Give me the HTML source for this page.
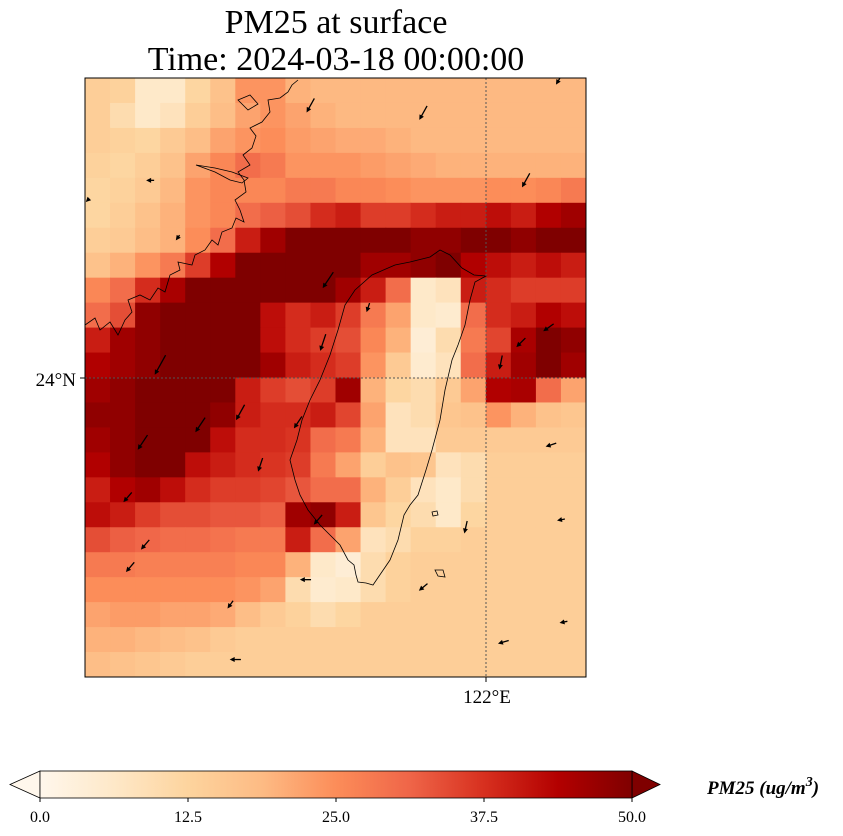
<!DOCTYPE html>
<html><head><meta charset="utf-8"><style>
html,body{margin:0;padding:0;background:#fff;}
svg{display:block;font-family:"Liberation Serif",serif;}
</style></head><body>
<svg id="chart" width="843" height="836" viewBox="0 0 843 836" xmlns="http://www.w3.org/2000/svg">
<text x="336" y="33" font-size="34" text-anchor="middle">PM25 at surface</text>
<text x="336" y="70" font-size="34" text-anchor="middle">Time: 2024-03-18 00:00:00</text>
<defs><clipPath id="mapclip"><rect x="85" y="78" width="501" height="599"/></clipPath>
<linearGradient id="cbgrad" x1="0" x2="1" y1="0" y2="0"></linearGradient></defs>
<g id="cells" clip-path="url(#mapclip)"></g>
<g id="coast" clip-path="url(#mapclip)" fill="none" stroke="#000" stroke-width="0.8">
<path d="M430,257 L440,250 L450,255 L462,268 L474,275 L486,276 L475,282 L470,300 L465,325 L458,345 L452,360 L445,390 L440,420 L432,450 L426,470 L418,495 L410,505 L404,515 L398,540 L390,560 L373,585 L366,583 L358,582 L356,575 L354,565 L348,560 L340,545 L330,535 L320,525 L308,510 L300,495 L295,480 L290,460 L297,440 L302,420 L310,400 L320,380 L330,355 L338,330 L345,305 L355,290 L372,275 L395,265 L410,262 Z"/>
<path d="M85,325 L95,318 L100,330 L110,322 L118,335 L125,320 L132,312 L128,300 L140,295 L150,300 L158,288 L165,292 L170,275 L180,270 L178,262 L192,265 L195,255 L205,250 L212,240 L218,245 L222,232 L232,228 L236,218 L244,222 L240,210 L235,200 L246,192 L244,180 L238,172 L250,165 L243,155 L252,148 L256,136 L250,128 L262,122 L270,112 L268,100 L280,98 L288,92 L292,85 L298,80"/>
<path d="M196,165 L215,172 L230,180 L242,183 L248,178 L232,172 L215,168 Z"/>
<path d="M238,100 L250,95 L258,104 L248,110 Z"/>
<path d="M432,512 L437,511 L438,515 L433,516 Z"/>
<path d="M435,570 L443,570 L445,577 L438,576 Z"/>
</g>
<g id="arrows" clip-path="url(#mapclip)"></g>
<line x1="486" y1="78" x2="486" y2="677" stroke="#555" stroke-width="1" stroke-dasharray="2,2"/>
<line x1="85" y1="378" x2="586" y2="378" stroke="#555" stroke-width="1" stroke-dasharray="2,2"/>
<rect x="85" y="78" width="501" height="599" fill="none" stroke="#000" stroke-width="1"/>
<line x1="80" y1="378" x2="85" y2="378" stroke="#000"/>
<line x1="486" y1="677" x2="486" y2="682" stroke="#000"/>
<text x="76" y="386" font-size="19" text-anchor="end">24°N</text>
<text x="487" y="703" font-size="19" text-anchor="middle">122°E</text>
<g id="colorbar"></g>
<text x="707" y="794" font-size="19" font-weight="bold" font-style="italic">PM25 (ug/m<tspan dy="-8" font-size="14">3</tspan><tspan dy="8">)</tspan></text>
</svg>
<script>
const NS="http://www.w3.org/2000/svg";
const vmin=0, vmax=50;
const cbTicks=[0,12.5,25,37.5,50];
const cbTickLabels=["0.0","12.5","25.0","37.5","50.0"];
const r0=[14,13,6,6,12,17,24,24,20,19,19,19,19,19,19,19,19,19,19,19];
const r1=[14,10,6,8,14,18,22,24,22,20,19,19,19,19,19,19,19,19,19,19];
const r2=[14,13,12,15,18,22,24,25,23,22,21,21,20,19,19,19,19,19,19,19];
const r3=[13,12,14,17,22,26,30,28,24,24,24,23,22,21,20,20,20,20,20,20];
const r4=[12,13,15,19,24,26,26,26,28,28,26,26,25,24,24,24,25,25,26,28];
const r5=[12,14,17,20,24,26,30,32,34,38,40,36,36,38,40,40,42,40,44,46];
const r6=[14,15,18,20,25,30,40,46,50,50,50,50,50,48,48,50,50,48,50,50];
const r7=[17,20,24,28,36,44,50,50,50,50,50,46,46,48,50,44,42,40,42,40];
const r8=[26,30,38,45,50,50,50,50,50,50,46,40,30,6,8,40,38,36,36,36];
const r9=[30,34,48,50,50,50,50,42,38,40,36,28,22,6,5,30,38,40,44,42];
const r10=[40,46,48,50,50,50,50,42,38,36,34,26,20,4,10,28,35,45,50,48];
const r11=[44,46,48,50,50,50,50,46,40,38,36,24,15,5,8,30,40,46,50,46];
const r12=[46,48,50,50,50,50,40,36,34,36,46,20,12,10,15,22,44,45,30,22];
const r13=[48,48,50,50,50,48,40,38,38,40,35,22,8,10,16,17,24,20,17,16];
const r14=[46,48,50,50,50,42,38,38,37,30,28,20,8,8,15,15,15,15,15,15];
const r15=[44,48,50,50,42,40,38,37,36,28,22,14,17,16,8,10,14,14,14,14];
const r16=[40,44,46,42,38,36,36,35,33,30,30,20,14,8,6,10,14,14,14,14];
const r17=[42,40,36,34,34,33,33,32,46,48,40,16,12,10,6,12,14,14,14,14];
const r18=[34,32,31,30,30,29,28,28,40,30,22,8,10,13,13,14,14,14,14,14];
const r19=[28,28,27,27,27,27,26,26,20,6,4,10,13,14,14,14,14,14,14,14];
const r20=[25,25,25,25,25,25,24,22,10,5,6,10,13,14,14,14,14,14,14,14];
const r21=[22,23,23,22,22,21,18,15,13,10,12,14,14,14,14,14,14,14,14,14];
const r22=[20,20,19,18,17,15,14,14,14,14,14,14,14,14,14,14,14,14,14,14];
const r23=[18,17,16,15,14,14,14,14,14,14,14,14,14,14,14,14,14,14,14,14];
const pm25=[r0,r1,r2,r3,r4,r5,r6,r7,r8,r9,r10,r11,r12,r13,r14,r15,r16,r17,r18,r19,r20,r21,r22,r23];
const windCol=[9.0,13.5,17.6,18.9,2.6,0.1,3.7,9.7,3.0,4.6,2.3,6.2,7.0,8.5,9.5,11.3,1.7,2.4,1.8,5.8,6.0,8.8,9.3,13.5,15.2,16.6,17.4,18.5,18.6,19.0,19.1,16.7];
const windRow=[1.1,1.4,4.1,0.1,4.1,4.9,6.4,8.1,11.5,13.9,14.6,13.4,15.5,13.8,10.6,9.2,16.8,18.7,19.6,21.1,23.3,20.1,17.7,20.4,18.0,11.4,10.6,10.0,14.7,17.7,21.8,22.6];
const windU=[-0.5,-0.5,-0.5,-0.3,-1,-0.6,-0.5,-0.6,-0.5,-0.6,-0.6,-0.5,-0.3,-0.6,-0.3,-0.3,-0.6,-0.6,-0.6,-0.5,-1,-1,-0.6,-0.6,-0.2,-0.2,-0.6,-0.7,-0.9,-1,-1,-1];
const windV=[0.9,0.9,0.9,0.5,0,0.6,0.7,0.9,0.9,0.9,0.9,0.9,0.9,0.9,0.9,0.9,0.7,0.7,0.7,0.7,0,0,0.7,0.5,0.9,1,0.6,0.5,0.3,0.2,0.2,0.3];
const windSpeed=[1,1,1,0.6,0.5,0.3,0.4,1.2,1.4,1.1,1.1,1.1,0.9,0.9,1.1,0.6,0.8,0.8,0.8,0.6,0.7,0.7,0.8,0.7,0.8,0.9,0.8,0.8,0.7,0.5,0.5,0.7];

const mapX=85,mapY=78,mapW=501,mapH=599;
const nCols=r0.length,nRows=pm25.length;
const cw=mapW/nCols,ch=mapH/nRows;
function xScale(c){return mapX+c*cw;}
function yScale(r){return mapY+r*ch;}
const stops=["#fff7ec","#fee8c8","#fdd49e","#fdbb84","#fc8d59","#ef6548","#d7301f","#b30000","#7f0000"];
function hex(h){return [1,3,5].map(i=>parseInt(h.substr(i,2),16));}
function cmap(v){let t=(v-vmin)/(vmax-vmin);t=Math.max(0,Math.min(1,t));const p=t*(stops.length-1);const i=Math.min(stops.length-2,Math.floor(p));const f=p-i;const a=hex(stops[i]),b=hex(stops[i+1]);return "rgb("+a.map((x,k)=>Math.round(x+(b[k]-x)*f)).join(",")+")";}
const cells=document.getElementById("cells");
pm25.forEach((row,r)=>row.forEach((v,c)=>{const e=document.createElementNS(NS,"rect");


e.setAttribute("x",xScale(c));e.setAttribute("y",yScale(r));e.setAttribute("width",cw+0.6);e.setAttribute("height",ch+0.6);e.setAttribute("fill",cmap(v));cells.appendChild(e);}));
const arrows=document.getElementById("arrows");
windCol.forEach((c,i)=>{const x=xScale(c),y=yScale(windRow[i]);const n=Math.hypot(windU[i],windV[i])||1;const L=16*windSpeed[i];const dx=windU[i]/n*L,dy=windV[i]/n*L;
const x0=x-dx/2,y0=y-dy/2,x1=x+dx/2,y1=y+dy/2;const ux=dx/L,uy=dy/L;
const g=document.createElementNS(NS,"g");


const l=document.createElementNS(NS,"line");l.setAttribute("x1",x0);l.setAttribute("y1",y0);l.setAttribute("x2",x1-ux*3);l.setAttribute("y2",y1-uy*3);l.setAttribute("stroke","#000");l.setAttribute("stroke-width","1.3");g.appendChild(l);
const p=document.createElementNS(NS,"polygon");const hx=x1-ux*5,hy=y1-uy*5;p.setAttribute("points",`${x1},${y1} ${hx-uy*2.5},${hy+ux*2.5} ${hx+uy*2.5},${hy-ux*2.5}`);p.setAttribute("fill","#000");g.appendChild(p);arrows.appendChild(g);});
const cb=document.getElementById("colorbar");const cbX=40,cbW=592,cbY=771,cbH=27;
const grad=document.getElementById("cbgrad");stops.forEach((s,i)=>{const st=document.createElementNS(NS,"stop");st.setAttribute("offset",i/(stops.length-1));st.setAttribute("stop-color",s);grad.appendChild(st);});
function cbScale(v){return cbX+(v-vmin)/(vmax-vmin)*cbW;}
const tl=document.createElementNS(NS,"polygon");


tl.setAttribute("points",`${cbX},${cbY} ${cbX-30},${cbY+cbH/2} ${cbX},${cbY+cbH}`);tl.setAttribute("fill",stops[0]);tl.setAttribute("stroke","#000");tl.setAttribute("stroke-width","0.8");cb.appendChild(tl);
const tr=document.createElementNS(NS,"polygon");


tr.setAttribute("points",`${cbX+cbW},${cbY} ${cbX+cbW+28},${cbY+cbH/2} ${cbX+cbW},${cbY+cbH}`);tr.setAttribute("fill",stops[8]);tr.setAttribute("stroke","#000");tr.setAttribute("stroke-width","0.8");cb.appendChild(tr);
const bar=document.createElementNS(NS,"rect");


bar.setAttribute("x",cbX);bar.setAttribute("y",cbY);bar.setAttribute("width",cbW);bar.setAttribute("height",cbH);bar.setAttribute("fill","url(#cbgrad)");bar.setAttribute("stroke","#000");bar.setAttribute("stroke-width","0.8");cb.appendChild(bar);
cbTicks.forEach((v,i)=>{const x=cbScale(v);const t=document.createElementNS(NS,"line");


t.setAttribute("x1",x);t.setAttribute("x2",x);t.setAttribute("y1",cbY+cbH);t.setAttribute("y2",cbY+cbH+4);t.setAttribute("stroke","#000");cb.appendChild(t);
const tx=document.createElementNS(NS,"text");


tx.setAttribute("x",x);tx.setAttribute("y",cbY+cbH+24);tx.setAttribute("font-size","16");tx.setAttribute("text-anchor","middle");tx.textContent=cbTickLabels[i];cb.appendChild(tx);});
</script>
</body></html>
